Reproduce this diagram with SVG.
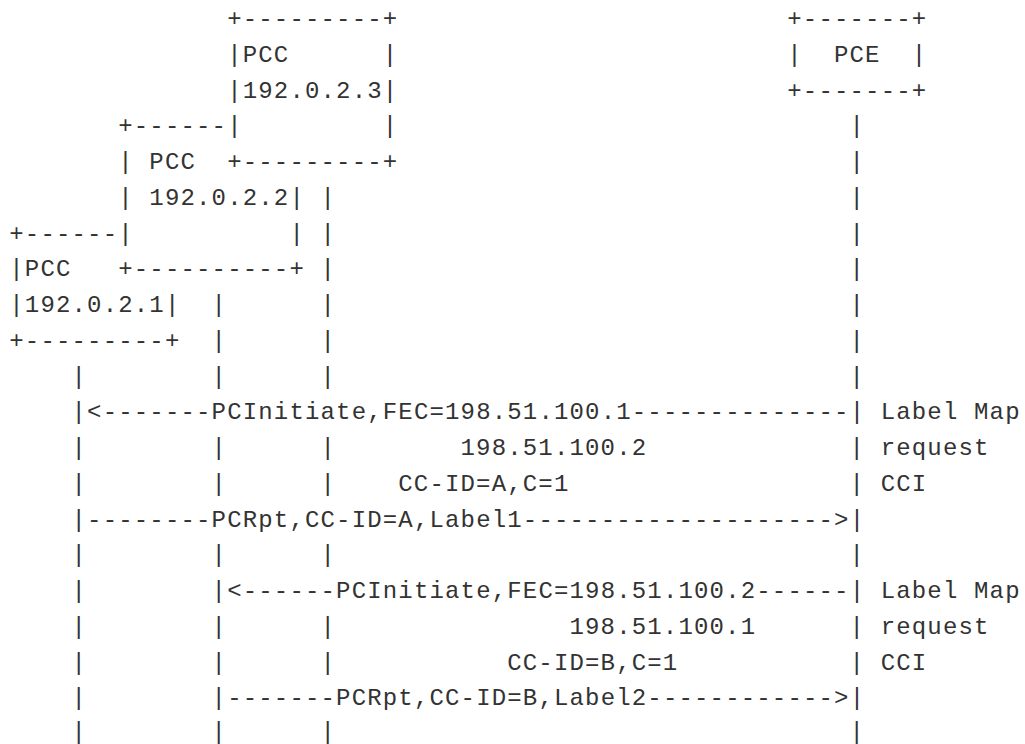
<svg xmlns="http://www.w3.org/2000/svg" width="1025" height="744" viewBox="0 0 1025 744" xml:space="preserve">
<style>
text{font-family:"Liberation Mono","DejaVu Sans Mono",monospace;font-size:24px;letter-spacing:1.16px;fill:#333333;white-space:pre}
</style>
<rect width="1025" height="744" fill="#ffffff"/>
<g transform="translate(-0.6,0)">
<g id="pcc3">
<text x="227.74" y="26">+---------+</text>
<text x="227.74" y="61.75">|PCC      |</text>
<text x="227.74" y="97.5">|192.0.2.3|</text>
<text x="227.74" y="133.25">|         |</text>
<text x="227.74" y="169">+---------+</text>
</g>
<g id="pcc2">
<text x="118.82" y="133.25">+------</text>
<text x="118.82" y="169">| PCC</text>
<text x="118.82" y="204.75">| 192.0.2.2|</text>
<text x="118.82" y="240.5">|          |</text>
<text x="118.82" y="276.25">+----------+</text>
</g>
<g id="pcc1">
<text x="9.9" y="240.5">+------</text>
<text x="9.9" y="276.25">|PCC</text>
<text x="9.9" y="312">|192.0.2.1|</text>
<text x="9.9" y="347.75">+---------+</text>
</g>
<g id="pce">
<text x="787.9" y="26">+-------+</text>
<text x="787.9" y="61.75">|  PCE  |</text>
<text x="787.9" y="97.5">+-------+</text>
</g>
<g id="connectors">
<text x="850.14" y="133.25">|</text>
<text x="850.14" y="169">|</text>
<text x="321.1" y="204.75">|</text>
<text x="850.14" y="204.75">|</text>
<text x="321.1" y="240.5">|</text>
<text x="850.14" y="240.5">|</text>
<text x="321.1" y="276.25">|</text>
<text x="850.14" y="276.25">|</text>
<text x="212.18" y="312">|      |</text>
<text x="850.14" y="312">|</text>
<text x="212.18" y="347.75">|      |</text>
<text x="850.14" y="347.75">|</text>
<text x="72.14" y="383.5">|        |      |</text>
<text x="850.14" y="383.5">|</text>
<text x="72.14" y="419.25">|&lt;-------PCInitiate,FEC=198.51.100.1--------------|</text>
<text x="72.14" y="455">|        |      |</text>
<text x="461.14" y="455">198.51.100.2</text>
<text x="850.14" y="455">|</text>
<text x="72.14" y="490.75">|        |      |</text>
<text x="398.9" y="490.75">CC-ID=A,C=1</text>
<text x="850.14" y="490.75">|</text>
<text x="72.14" y="526.5">|--------PCRpt,CC-ID=A,Label1--------------------&gt;|</text>
<text x="72.14" y="562.25">|        |      |</text>
<text x="850.14" y="562.25">|</text>
<text x="72.14" y="598">|</text>
<text x="212.18" y="598">|&lt;------PCInitiate,FEC=198.51.100.2------|</text>
<text x="72.14" y="633.75">|        |      |</text>
<text x="570.06" y="633.75">198.51.100.1</text>
<text x="850.14" y="633.75">|</text>
<text x="72.14" y="669.5">|        |      |</text>
<text x="507.82" y="669.5">CC-ID=B,C=1</text>
<text x="850.14" y="669.5">|</text>
<text x="72.14" y="705.25">|</text>
<text x="212.18" y="705.25">|-------PCRpt,CC-ID=B,Label2------------&gt;|</text>
<text x="72.14" y="739">|        |      |</text>
<text x="850.14" y="739">|</text>
</g>
<g id="labels">
<text x="881.26" y="419.25">Label Map</text>
<text x="881.26" y="455">request</text>
<text x="881.26" y="490.75">CCI</text>
<text x="881.26" y="598">Label Map</text>
<text x="881.26" y="633.75">request</text>
<text x="881.26" y="669.5">CCI</text>
</g>
</g>
</svg>
